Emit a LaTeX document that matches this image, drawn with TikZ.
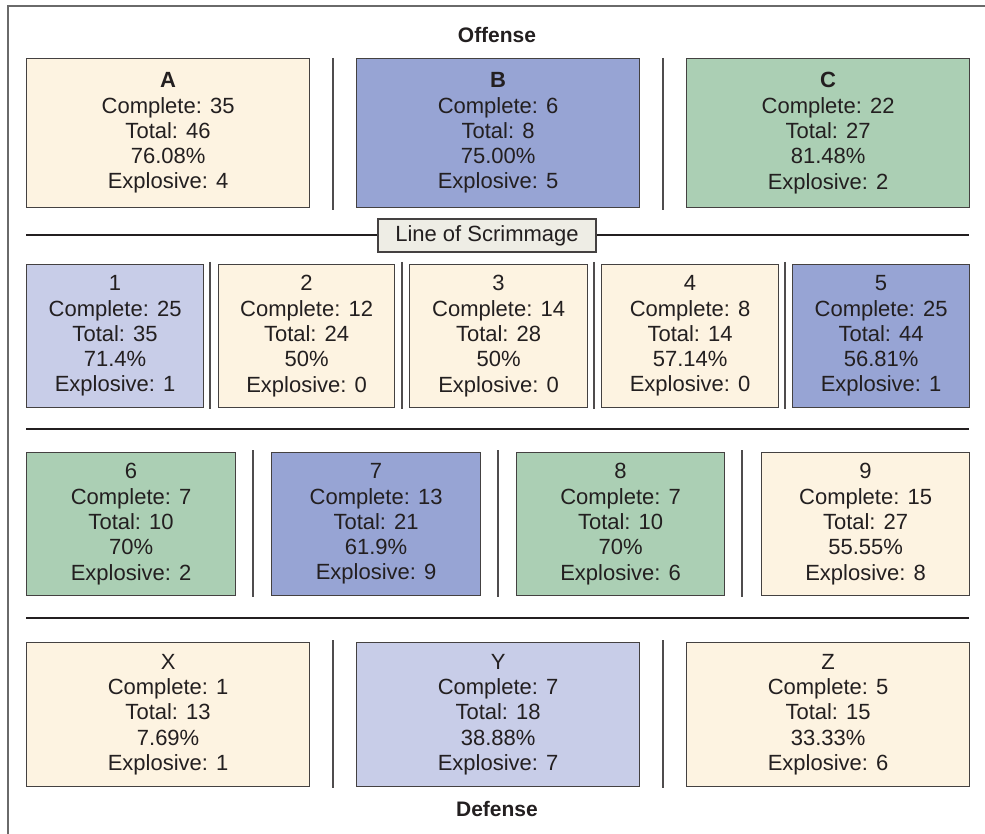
\documentclass[tikz,border=0pt]{standalone}
\usepackage{fontspec}
\setmainfont{Liberation Sans}
\definecolor{cream}{HTML}{FDF3E1}
\definecolor{pblue}{HTML}{97A4D4}
\definecolor{pgreen}{HTML}{ABCFB4}
\definecolor{plav}{HTML}{C8CDE8}
\definecolor{lblfill}{HTML}{EEEDE5}
\definecolor{ink}{HTML}{231F20}
\definecolor{framegray}{HTML}{6A6A6A}
\begin{document}
\begin{tikzpicture}[x=1pt,y=-1pt,
  cell/.style={draw=ink!85, line width=1.2pt, inner sep=0pt, align=center,
    text=ink, font=\fontsize{22}{25.3}\selectfont, anchor=north west},
  sep/.style={draw=ink!80, line width=1.8pt},
  rule/.style={draw=ink, line width=2.6pt},
  heading/.style={text=ink, font=\fontsize{21}{24}\selectfont\bfseries},
  framestyle/.style={draw=framegray, line width=1.6pt}
]
\useasboundingbox (0,0) rectangle (985,834);
% outer frame (only left and top visible)
\draw[framestyle] (8,834) -- (8,6) -- (985,6);

\node[heading] (off) at (497,35) {Offense};
\node[heading] (def) at (497,809) {Defense};

% Row 1
\node[cell, fill=cream, minimum width=283pt, minimum height=149pt] (A) at (26,58)
  {\textbf{A}\\Complete: 35\\Total: 46\\76.08\%\\Explosive: 4};
\node[cell, fill=pblue, minimum width=283pt, minimum height=149pt] (B) at (356,58)
  {\textbf{B}\\Complete: 6\\Total: 8\\75.00\%\\Explosive: 5};
\node[cell, fill=pgreen, minimum width=283pt, minimum height=149pt] (C) at (686,58)
  {\textbf{C}\\Complete: 22\\Total: 27\\81.48\%\\Explosive: 2};
\draw[sep] (333,58) -- (333,210);
\draw[sep] (663,58) -- (663,210);

% Line of scrimmage
\draw[rule] (26,235) -- (969,235);
\node[draw=ink!85, line width=1.2pt, fill=lblfill, text=ink, font=\fontsize{22}{25}\selectfont,
  minimum width=218pt, minimum height=33pt, inner sep=0pt] (los) at (487,235.5) {Line of Scrimmage};

% Row 2
\node[cell, fill=plav, minimum width=177pt, minimum height=143pt] (n1) at (26,264)
  {1\\Complete: 25\\Total: 35\\71.4\%\\Explosive: 1};
\node[cell, fill=cream, minimum width=176pt, minimum height=143pt] (n2) at (218,264)
  {2\\Complete: 12\\Total: 24\\50\%\\Explosive: 0};
\node[cell, fill=cream, minimum width=178pt, minimum height=143pt] (n3) at (409,264)
  {3\\Complete: 14\\Total: 28\\50\%\\Explosive: 0};
\node[cell, fill=cream, minimum width=177pt, minimum height=143pt] (n4) at (601,264)
  {4\\Complete: 8\\Total: 14\\57.14\%\\Explosive: 0};
\node[cell, fill=pblue, minimum width=177pt, minimum height=143pt] (n5) at (792,264)
  {5\\Complete: 25\\Total: 44\\56.81\%\\Explosive: 1};
\draw[sep] (210,262) -- (210,409);
\draw[sep] (402,262) -- (402,409);
\draw[sep] (594,262) -- (594,409);
\draw[sep] (785,262) -- (785,409);

\draw[rule] (26,429) -- (969,429);

% Row 3
\node[cell, fill=pgreen, minimum width=209pt, minimum height=143pt] (n6) at (26,452)
  {6\\Complete: 7\\Total: 10\\70\%\\Explosive: 2};
\node[cell, fill=pblue, minimum width=209pt, minimum height=143pt] (n7) at (271,452)
  {7\\Complete: 13\\Total: 21\\61.9\%\\Explosive: 9};
\node[cell, fill=pgreen, minimum width=208pt, minimum height=143pt] (n8) at (516,452)
  {8\\Complete: 7\\Total: 10\\70\%\\Explosive: 6};
\node[cell, fill=cream, minimum width=208pt, minimum height=143pt] (n9) at (761,452)
  {9\\Complete: 15\\Total: 27\\55.55\%\\Explosive: 8};
\draw[sep] (253,450) -- (253,597);
\draw[sep] (498,450) -- (498,597);
\draw[sep] (742,450) -- (742,597);

\draw[rule] (26,618) -- (969,618);

% Row 4
\node[cell, fill=cream, minimum width=283pt, minimum height=144pt] (X) at (26,642)
  {X\\Complete: 1\\Total: 13\\7.69\%\\Explosive: 1};
\node[cell, fill=plav, minimum width=283pt, minimum height=144pt] (Y) at (356,642)
  {Y\\Complete: 7\\Total: 18\\38.88\%\\Explosive: 7};
\node[cell, fill=cream, minimum width=283pt, minimum height=144pt] (Z) at (686,642)
  {Z\\Complete: 5\\Total: 15\\33.33\%\\Explosive: 6};
\draw[sep] (333,640) -- (333,788);
\draw[sep] (663,640) -- (663,788);
\end{tikzpicture}
\end{document}
